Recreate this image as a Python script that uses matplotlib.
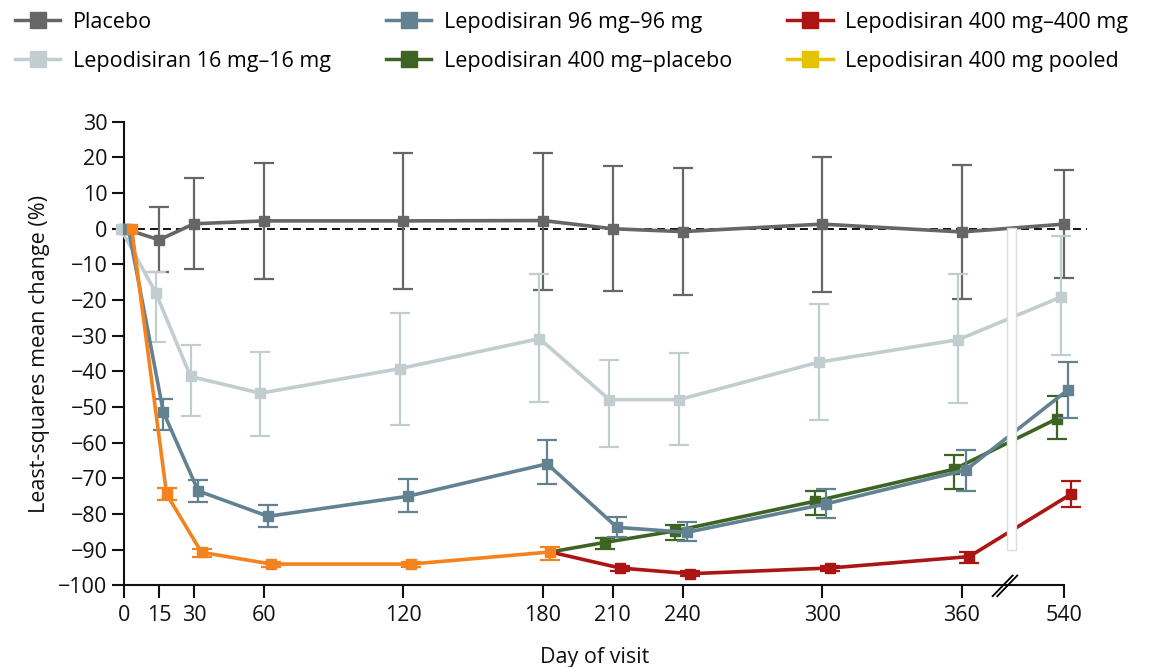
import matplotlib
matplotlib.use("Agg")
import matplotlib.pyplot as plt
from matplotlib.lines import Line2D
from matplotlib.patches import Rectangle
import numpy as np

plt.rcParams['font.family'] = ['Open Sans', 'DejaVu Sans']

# visit days (540 sits after the axis break)
days = np.array([0, 15, 30, 60, 120, 180, 210, 240, 300, 360, 540])
tick_days = [0, 15, 30, 60, 120, 180, 210, 240, 300, 360, 540]

placebo = [0, -3.1, 1.4, 2.2, 2.2, 2.3, 0.0, -0.8, 1.3, -0.9, 1.3]
placebo_lo = [0, -12.0, -11.3, -14.1, -16.9, -17.3, -17.4, -18.6, -17.7, -19.6, -13.9]
placebo_hi = [0, 6.0, 14.2, 18.5, 21.3, 21.2, 17.5, 17.0, 20.0, 17.8, 16.5]

lep16 = [0, -17.9, -41.4, -46.1, -39.2, -30.8, -47.9, -47.9, -37.4, -31.1, -19.2]
lep16_lo = [0, -31.7, -52.6, -58.2, -55.0, -48.6, -61.3, -60.6, -53.5, -48.9, -35.5]
lep16_hi = [0, -12.1, -32.7, -34.5, -23.5, -12.6, -36.7, -34.9, -21.2, -12.8, -2.0]

lep96 = [0, -51.4, -73.5, -80.6, -75.0, -65.9, -83.7, -85.1, -77.1, -67.6, -45.1]
lep96_lo = [0, -56.3, -76.7, -83.5, -79.3, -71.6, -86.4, -87.5, -81.1, -73.6, -53.1]
lep96_hi = [0, -47.8, -70.4, -77.4, -70.2, -59.2, -80.9, -82.3, -72.9, -62.0, -37.4]

# pooled 400 mg up to day 180, then split
pooled_days = np.array([0, 15, 30, 60, 120, 180])
pooled = [0, -74.4, -90.7, -94.0, -94.0, -90.6]
pooled_lo = [0, -76.0, -91.9, -94.8, -94.8, -92.9]
pooled_hi = [0, -72.7, -89.7, -93.3, -93.3, -89.1]

split_days = np.array([210, 240, 300, 360, 540])
lep400_400 = [-95.1, -96.7, -95.1, -91.9, -74.3]
lep400_400_lo = [-95.8, -97.4, -95.8, -93.7, -77.9]
lep400_400_hi = [-94.4, -96.0, -94.4, -90.5, -70.8]

lep400_pbo = [-87.9, -84.7, -76.4, -67.4, -53.3]
lep400_pbo_lo = [-89.7, -87.2, -80.2, -73.0, -58.9]
lep400_pbo_hi = [-86.6, -83.0, -73.4, -63.4, -46.8]

C_PBO = '#666666'
C_16 = '#c1cdcf'
C_96 = '#628292'
C_RED = '#ad1414'
C_GRN = '#3d6422'
C_YEL = '#e6c300'
C_ORG = '#f4821f'

X540 = 404.0  # plotted position of day 540


def xpos(d, shift=0.0):
    d = np.asarray(d, dtype=float)
    return np.where(d > 360, X540 + (d - 540), d) + shift


fig = plt.figure(figsize=(11.68, 6.67), dpi=100)
ax = fig.add_axes([0.1064, 0.1222, 0.8046, 0.6953])


def series(x, y, lo, hi, color, shift, z, start=None, err_from=1):
    x = xpos(x, shift)
    y = np.asarray(y, float)
    lo = np.asarray(lo, float)
    hi = np.asarray(hi, float)
    lx, ly = x, y
    if start is not None:
        lx = np.r_[start[0], x]
        ly = np.r_[start[1], y]
    ax.plot(lx, ly, '-', color=color, lw=2.6, zorder=z, solid_joinstyle='round', clip_on=False)
    ax.plot(x, y, 's', color=color, ms=6.5, zorder=z + 0.1, clip_on=False)
    ex = x[err_from:]
    ey = y[err_from:]
    eb = ax.errorbar(ex, ey, yerr=[ey - lo[err_from:], hi[err_from:] - ey], fmt='none',
                     ecolor=color, elinewidth=1.6, capsize=7, capthick=1.6, zorder=z - 0.5)
    for art in eb.lines[1]:
        art.set_clip_on(False)
    for art in eb.lines[2]:
        art.set_clip_on(False)


ax.plot([0, 414], [0, 0], color='black', lw=1.3, ls=(0, (4.4, 2.8)), clip_on=False, zorder=1)

series(days, placebo, placebo_lo, placebo_hi, C_PBO, 0.0, 3)
series(days, lep16, lep16_lo, lep16_hi, C_16, -1.5, 4)
series(split_days, lep400_pbo, lep400_pbo_lo, lep400_pbo_hi, C_GRN, -3.2, 5,
       start=(180 + 3.2, pooled[-1]), err_from=0)
series(days, lep96, lep96_lo, lep96_hi, C_96, 1.8, 6)
series(split_days, lep400_400, lep400_400_lo, lep400_400_hi, C_RED, 3.2, 7,
       start=(180 + 3.2, pooled[-1]), err_from=0)
series(pooled_days, pooled, pooled_lo, pooled_hi, C_ORG, 3.2, 8)

# white gap marking the axis break
ax.add_patch(Rectangle((379.6, -90), 3.9, 90.3, facecolor='white', edgecolor='#dcdcdc',
                       lw=1.0, zorder=9))

# break slashes on the x axis
for off in (0.0, 2.0):
    ax.plot([373.3 + off, 381.9 + off], [-103.0, -97.2], color='black', lw=1.3,
            clip_on=False, zorder=10)

ax.set_xlim(0, X540)
ax.set_ylim(-100, 30)
ax.set_xticks(xpos(tick_days))
ax.set_xticklabels([str(d) for d in tick_days])
ax.set_yticks(np.arange(-100, 31, 10))
ax.set_yticklabels([str(v).replace('-', '\u2212') for v in range(-100, 31, 10)])

for s in ('top', 'right'):
    ax.spines[s].set_visible(False)
for s in ('left', 'bottom'):
    ax.spines[s].set_linewidth(1.5)
    ax.spines[s].set_color('#111111')
ax.tick_params(axis='both', length=9, width=1.5, color='#111111', labelsize=15.5,
               labelcolor='#111111')
ax.tick_params(axis='x', pad=5)
ax.tick_params(axis='y', pad=3)

ax.set_xlabel('Day of visit', fontsize=15.5, labelpad=15, color='#111111')
ax.set_ylabel('Least-squares mean change (%)', fontsize=15.5, labelpad=6, color='#111111')

handles = [
    Line2D([], [], color=C_PBO, lw=2.5, marker='s', ms=11),
    Line2D([], [], color=C_16, lw=2.5, marker='s', ms=11),
    Line2D([], [], color=C_96, lw=2.5, marker='s', ms=11),
    Line2D([], [], color=C_GRN, lw=2.5, marker='s', ms=11),
    Line2D([], [], color=C_RED, lw=2.5, marker='s', ms=11),
    Line2D([], [], color=C_YEL, lw=2.5, marker='s', ms=11),
]
labels = ['Placebo', 'Lepodisiran 16 mg\u201316 mg', 'Lepodisiran 96 mg\u201396 mg',
          'Lepodisiran 400 mg\u2013placebo', 'Lepodisiran 400 mg\u2013400 mg',
          'Lepodisiran 400 mg pooled']
fig.legend(handles, labels, loc='upper left', bbox_to_anchor=(0.0, 1.005), ncol=3,
           frameon=False, fontsize=15.5, handlelength=2.1, handletextpad=0.6,
           columnspacing=2.55, labelspacing=0.83, borderaxespad=0.3)

fig.savefig('out.png', dpi=100)
